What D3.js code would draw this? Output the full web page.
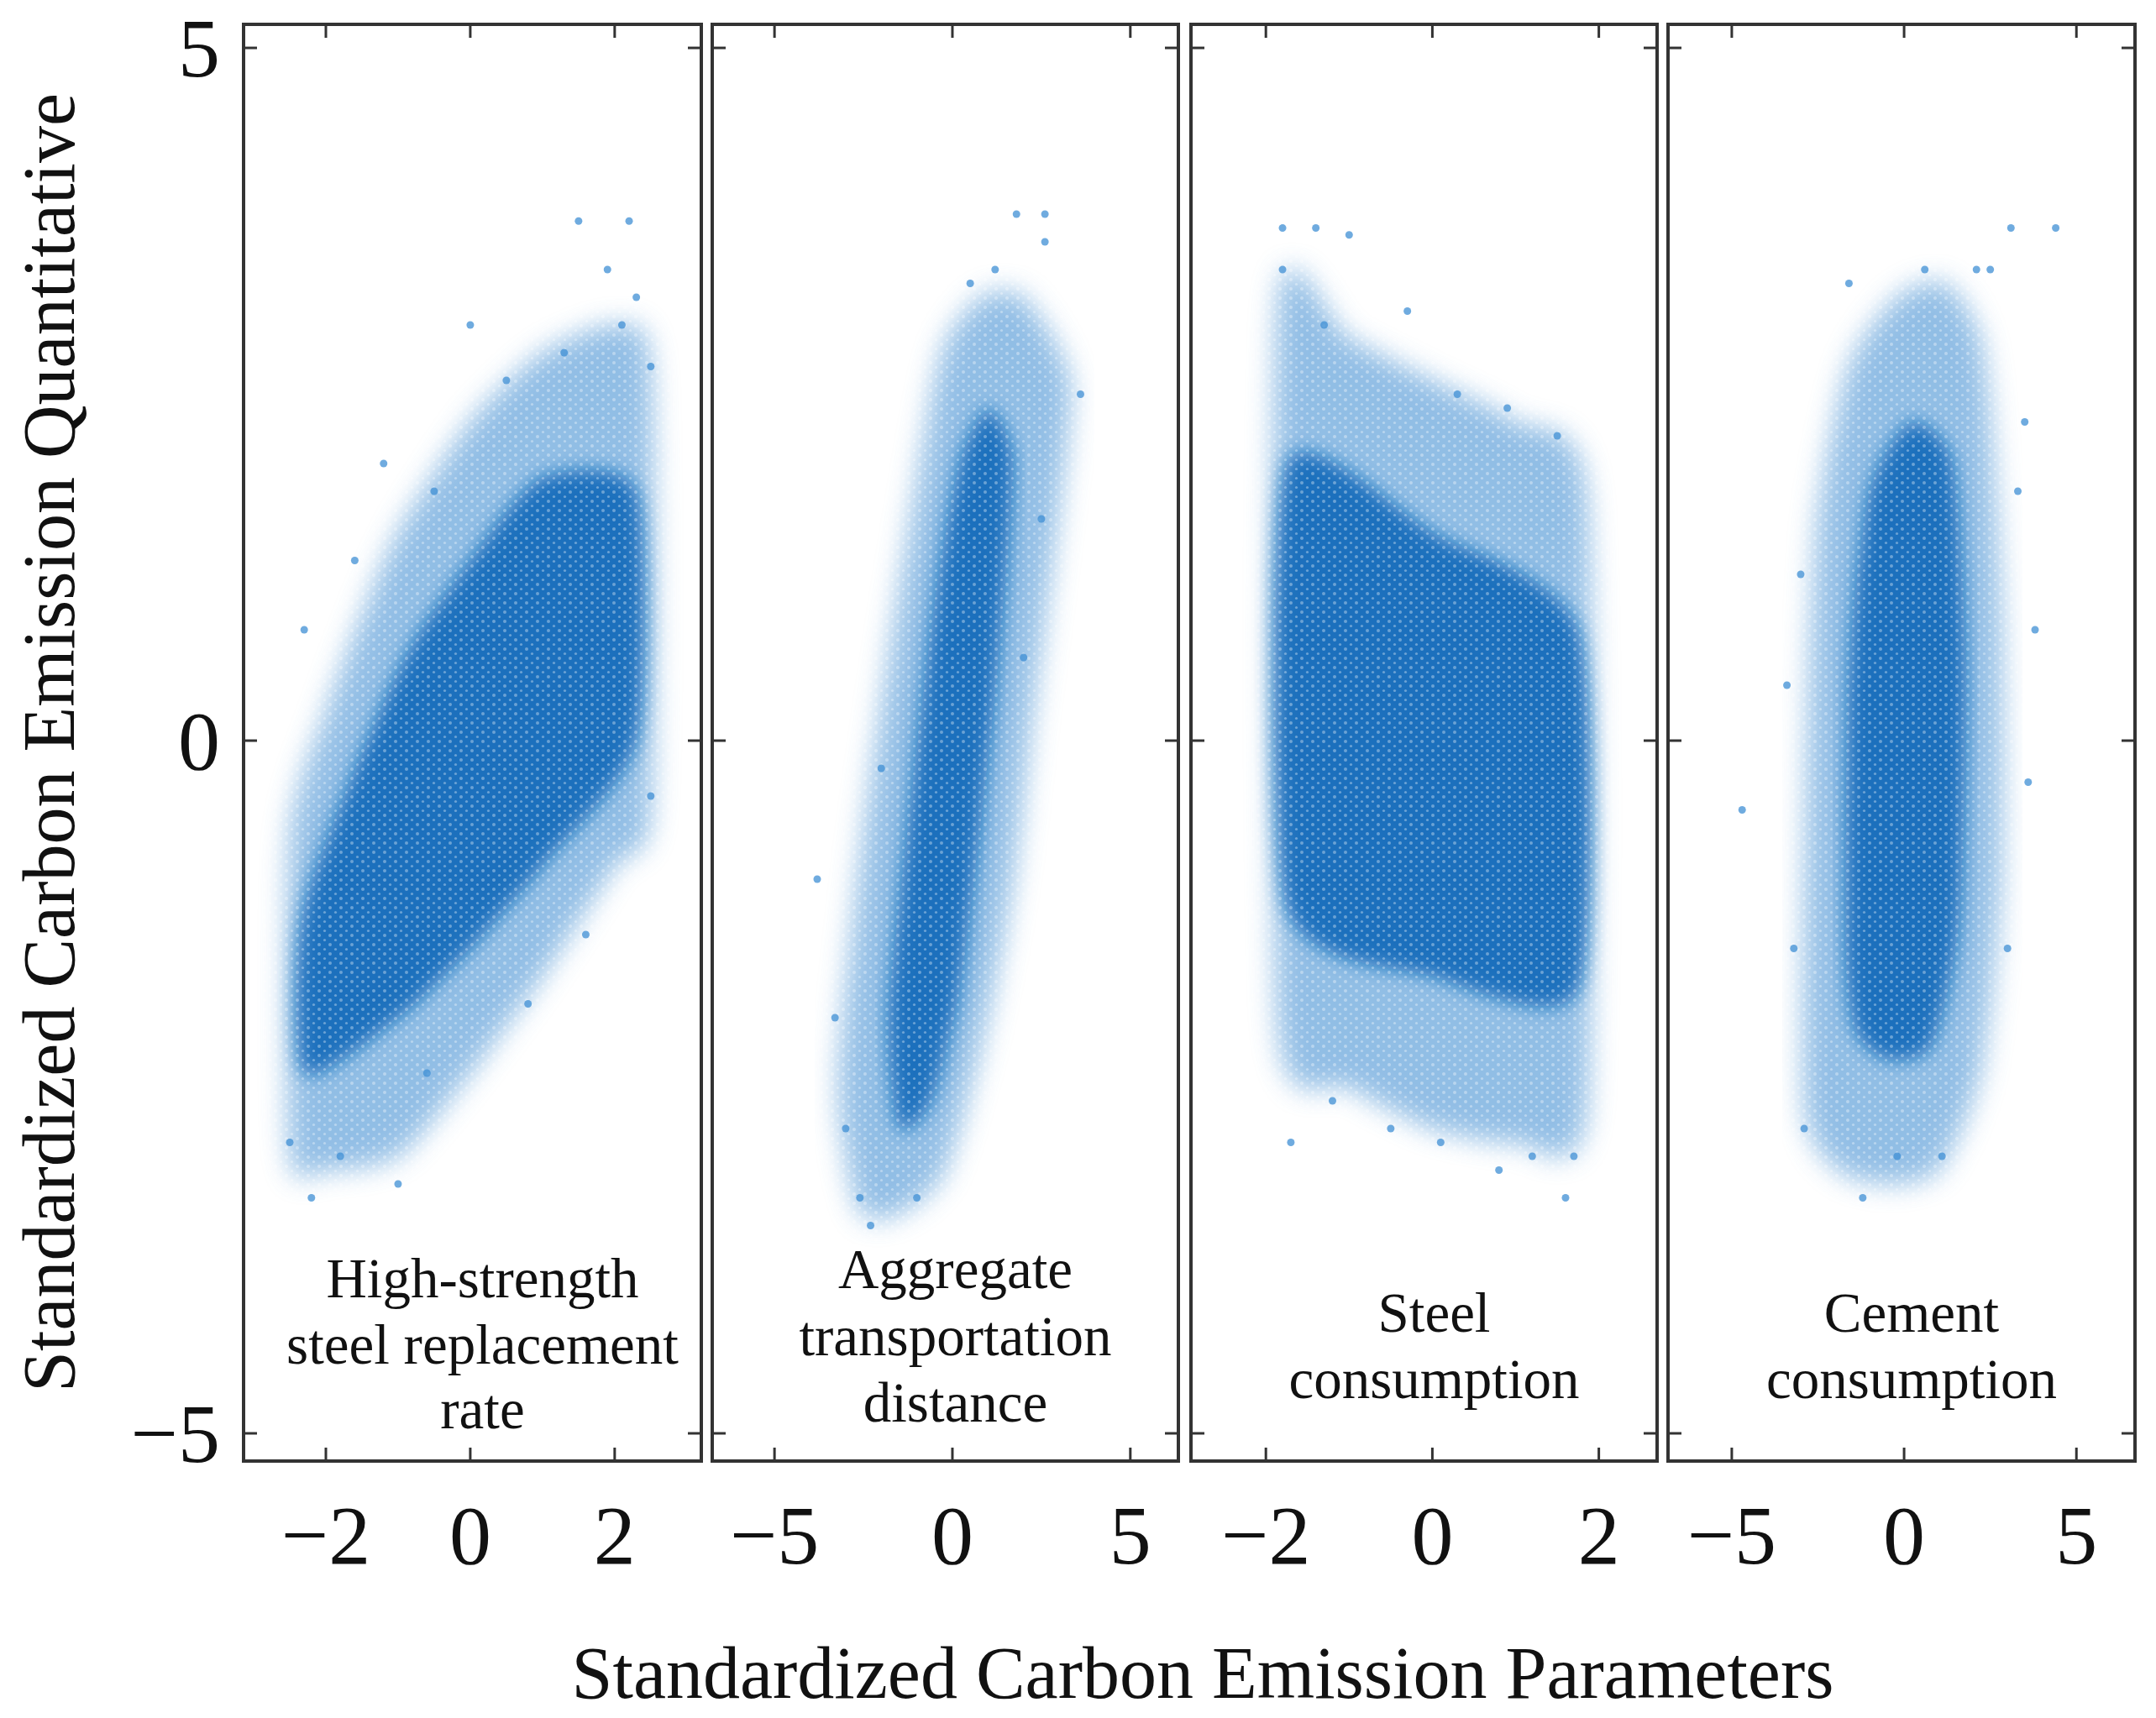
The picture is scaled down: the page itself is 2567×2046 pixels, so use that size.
<!DOCTYPE html>
<html lang="en">
<head>
<style>
  body { margin: 0; background: #fff; }
  text { font-family: "Liberation Serif", "DejaVu Serif", serif; fill: #111; }
</style>
</head>
<body>
<div id="viz"></div>
<script src="https://d3js.org/d3.v7.min.js"></script>
<script>

// panel labels and axis ticks
var panelNames = [
  ["High-strength", "steel replacement", "rate"],
  ["Aggregate", "transportation", "distance"],
  ["Steel", "consumption"],
  ["Cement", "consumption"]
];
var xTicks = [[-2, 0, 2], [-5, 0, 5], [-2, 0, 2], [-5, 0, 5]];
var xDomains = [[-3.14, 3.2], [-6.75, 6.35], [-2.9, 2.7], [-6.85, 6.7]];
var yTicks = [-5, 0, 5];

// outline of the sparse part of each cloud (x, y)
var outerClouds = [
  [[-2.5,-0.7],[-2,0.2],[-1.5,0.9],[-1,1.5],[0,2.3],[1,2.8],[2,3.0],[2.5,2.7],[2.5,-0.5],[2,-0.9],[1,-1.7],[0,-2.4],[-1,-3.0],[-2,-3.1],[-2.5,-3.0]],
  [[-3.2,-2.5],[-2.6,-0.9],[-1.9,0.4],[-1.1,1.7],[-0.3,2.8],[0.8,3.2],[2,3.2],[3.3,2.6],[2.9,1.5],[2.3,0.3],[1.7,-1],[0.9,-2.1],[-0.2,-3.1],[-1.4,-3.4],[-2.6,-3.4]],
  [[-1.85,3.2],[-1,2.9],[0,2.6],[1,2.3],[1.85,1.8],[1.85,-2.7],[1,-2.9],[0,-2.8],[-1,-2.5],[-1.85,-2.1]],
  [[-2.9,-2.6],[-2.8,0],[-2.5,1.6],[-1.6,2.7],[-0.2,3.2],[1.2,3.3],[2.3,2.8],[2.8,1],[2.8,-1],[2.2,-2.4],[1,-3.1],[-0.5,-3.2],[-1.9,-3.1]]
];
// outline of the dense core of each cloud
var innerClouds = [
  [[-2.3,-1.2],[-1,0.5],[0,1.3],[1,1.9],[2.3,1.8],[2.3,0],[1,-0.9],[0,-1.5],[-1,-2],[-2.3,-2.4]],
  [[-1.8,-2],[-1.2,-0.5],[-0.5,1],[0.2,2],[1,2.4],[1.7,2],[1.3,0.6],[0.8,-0.6],[0.2,-1.8],[-0.6,-2.6],[-1.5,-2.8]],
  [[-1.75,2],[0,1.5],[1.75,0.8],[1.75,-1.8],[0,-1.7],[-1.75,-1.2]],
  [[-1.7,-1.5],[-1.6,0.5],[-1,1.8],[0.2,2.3],[1.4,2],[1.8,0.5],[1.6,-1.3],[0.8,-2.2],[-0.5,-2.3],[-1.4,-2.1]]
];
// scattered single points outside the clouds
var strayPoints = [
  [[1.5,3.75],[2.2,3.75],[1.9,3.4],[0,3],[-1.2,2],[-2.3,0.8],[-1,-3.2],[-1.8,-3],[-2.5,-2.9],[0.8,-1.9],[2.5,-0.4],[2.5,2.7],[-0.6,-2.4],[1.3,2.8],[-0.5,1.8],[2.1,3.0],[-1.6,1.3],[0.5,2.6],[2.3,3.2],[-2.2,-3.3],[1.6,-1.4]],
  [[1.8,3.8],[2.6,3.8],[2.6,3.6],[3.6,2.5],[-3.8,-1],[-2.6,-3.3],[-2.3,-3.5],[-1,-3.3],[2.5,1.6],[-3.3,-2],[0.5,3.3],[-2.0,-0.2],[1.2,3.4],[-3.0,-2.8],[2.0,0.6]],
  [[-1.8,3.7],[-1.4,3.7],[-1,3.65],[-1.8,3.4],[-0.3,3.1],[0.3,2.5],[-1.7,-2.9],[-0.5,-2.8],[0.8,-3.1],[1.6,-3.3],[1.2,-3],[1.5,2.2],[0.1,-2.9],[-1.2,-2.6],[-1.3,3.0],[0.9,2.4],[1.7,-3.0]],
  [[4.4,3.7],[3.1,3.7],[2.5,3.4],[2.1,3.4],[-1.6,3.3],[3.5,2.3],[3.8,0.8],[3.3,1.8],[-4.7,-0.5],[-3.2,-1.5],[-1.2,-3.3],[-2.9,-2.8],[-0.2,-3],[1.1,-3],[3.6,-0.3],[-3.4,0.4],[3.0,-1.5],[-3.0,1.2],[0.6,3.4]]
];

var W = 2567, H = 2046;
var panelX = [[290, 835], [848, 1403], [1418, 1973], [1986, 2542]];
var yTop = 29, yBottom = 1740;
var labelY = [[1530, 1609, 1686], [1519, 1599, 1678], [1571, 1650], [1571, 1650]];

var svg = d3.select("#viz").append("svg").attr("width", W).attr("height", H);
var defs = svg.append("defs");
defs.append("filter").attr("id", "blur").append("feGaussianBlur").attr("stdDeviation", 16);
defs.append("filter").attr("id", "blur2").append("feGaussianBlur").attr("stdDeviation", 11);
var pat = defs.append("pattern").attr("id", "dots").attr("patternUnits", "userSpaceOnUse")
  .attr("width", 13).attr("height", 11);
pat.append("circle").attr("cx", 3).attr("cy", 3).attr("r", 2).attr("fill", "#fff");
pat.append("circle").attr("cx", 9.5).attr("cy", 8.5).attr("r", 1.6).attr("fill", "#fff");

var y = d3.scaleLinear().domain([-5.2, 5.17]).range([yBottom, yTop]);

panelX.forEach(function(px, i){
  var x = d3.scaleLinear().domain(xDomains[i]).range(px);
  var g = svg.append("g");
  var cid = "clip" + i;
  defs.append("clipPath").attr("id", cid).append("rect")
    .attr("x", px[0]).attr("y", yTop).attr("width", px[1] - px[0]).attr("height", yBottom - yTop);

  var line = d3.line().x(d => x(d[0])).y(d => y(d[1])).curve(d3.curveCardinalClosed.tension(0.3));
  var cg = g.append("g").attr("clip-path", "url(#" + cid + ")");
  cg.append("path").attr("d", line(outerClouds[i])).attr("fill", "#4a93d4").attr("opacity", 0.6).attr("filter", "url(#blur)");
  cg.append("path").attr("d", line(innerClouds[i])).attr("fill", "#0a66b8").attr("opacity", 0.88).attr("filter", "url(#blur2)");
  cg.append("rect").attr("x", px[0]).attr("y", yTop).attr("width", px[1] - px[0]).attr("height", yBottom - yTop)
    .attr("fill", "url(#dots)").attr("opacity", 0.35);
  cg.selectAll("circle.p").data(strayPoints[i]).enter().append("circle")
    .attr("cx", d => x(d[0])).attr("cy", d => y(d[1])).attr("r", 4.5)
    .attr("fill", "#3f8fd4").attr("opacity", 0.75);

  // frame
  g.append("rect").attr("x", px[0]).attr("y", yTop).attr("width", px[1] - px[0]).attr("height", yBottom - yTop)
    .attr("fill", "none").attr("stroke", "#333").attr("stroke-width", 4);

  // inner ticks on all sides
  var tk = 16;
  xTicks[i].forEach(function(t){
    g.append("line").attr("x1", x(t)).attr("x2", x(t)).attr("y1", yBottom).attr("y2", yBottom - tk).attr("stroke", "#333").attr("stroke-width", 3);
    g.append("line").attr("x1", x(t)).attr("x2", x(t)).attr("y1", yTop).attr("y2", yTop + tk).attr("stroke", "#333").attr("stroke-width", 3);
    g.append("text").attr("x", x(t)).attr("y", 1862).attr("text-anchor", "middle").attr("font-size", 100)
      .text(t < 0 ? "\u2212" + Math.abs(t) : t);
  });
  yTicks.forEach(function(t){
    g.append("line").attr("x1", px[0]).attr("x2", px[0] + tk).attr("y1", y(t)).attr("y2", y(t)).attr("stroke", "#333").attr("stroke-width", 3);
    g.append("line").attr("x1", px[1]).attr("x2", px[1] - tk).attr("y1", y(t)).attr("y2", y(t)).attr("stroke", "#333").attr("stroke-width", 3);
  });

  panelNames[i].forEach(function(s, k){
    g.append("text").attr("x", (px[0] + px[1]) / 2 + 12).attr("y", labelY[i][k]).attr("text-anchor", "middle")
      .attr("dominant-baseline", "middle").attr("font-size", 67).text(s);
  });
});

// y tick labels
yTicks.forEach(function(t){
  svg.append("text").attr("x", 262).attr("y", y(t)).attr("text-anchor", "end").attr("dominant-baseline", "central")
    .attr("font-size", 100).text(t < 0 ? "\u2212" + Math.abs(t) : t);
});

svg.append("text").attr("transform", "translate(58," + ((yTop + yBottom) / 2) + ") rotate(-90)")
  .attr("text-anchor", "middle").attr("dominant-baseline", "central").attr("font-size", 88)
  .text("Standardized Carbon Emission Quantitative");
svg.append("text").attr("x", 1432).attr("y", 1992).attr("text-anchor", "middle").attr("dominant-baseline", "central")
  .attr("font-size", 88).text("Standardized Carbon Emission Parameters");

</script>
</body>
</html>
